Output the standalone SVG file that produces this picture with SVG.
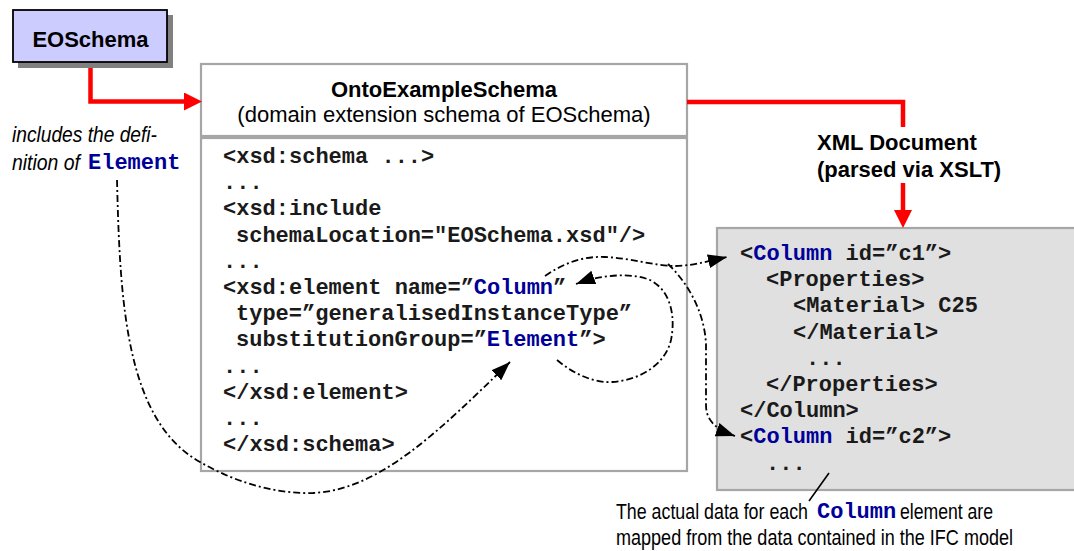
<svg xmlns="http://www.w3.org/2000/svg" width="1074" height="551" viewBox="0 0 1074 551">
  <style>
    .sans { font-family: "Liberation Sans", Arial, sans-serif; font-size: 22px; fill: #000; }
    .bold { font-weight: bold; }
    .narrow { font-family: "Liberation Sans", Arial, sans-serif; font-size: 22px; fill: #000; }
    .code { font-family: "Liberation Mono", "Courier New", monospace; font-size: 22px; font-weight: bold; fill: #1a1a1a; }
    .kw { fill: #000099; }
    .frame { fill: #fff; stroke: #a6a6a6; stroke-width: 2.2; }
    .red { fill: none; stroke: #ff0000; stroke-width: 4.5; }
    .link { fill: none; stroke: #000; stroke-width: 1.8; stroke-dasharray: 7 3 2 3; }
  </style>
  <defs>
    <marker id="redHead" markerUnits="userSpaceOnUse" markerWidth="18" markerHeight="18" refX="0" refY="9" orient="auto">
      <path d="M0,0 L18,9 L0,18 z" fill="#ff0000"/>
    </marker>
    <marker id="blackHead" markerUnits="userSpaceOnUse" markerWidth="20" markerHeight="14" refX="19" refY="7" orient="auto">
      <path d="M0,0 L19,7 L0,14 z" fill="#000"/>
    </marker>
  </defs>

  <rect width="1074" height="551" fill="#fff"/>

  <!-- base schema node -->
  <g id="eoschema">
    <rect x="18" y="15" width="155" height="53" fill="#808080"/>
    <rect x="13" y="10" width="154" height="52" fill="#ccccff" stroke="#000" stroke-width="1.8"/>
    <text class="sans bold" x="90.5" y="47" text-anchor="middle">EOSchema</text>
  </g>

  <!-- note beside the schema -->
  <g id="note-element">
    <text class="narrow" font-style="italic" x="12" y="142" textLength="145" lengthAdjust="spacingAndGlyphs">includes the defi-</text>
    <text class="narrow" font-style="italic" x="12" y="170" textLength="68" lengthAdjust="spacingAndGlyphs">nition of</text>
    <text class="code kw" x="88" y="169">Element</text>
  </g>

  <!-- extension schema node -->
  <g id="ontoexampleschema">
    <rect class="frame" x="201" y="64" width="486" height="72"/>
    <rect class="frame" x="201" y="138" width="486" height="333"/>
    <text class="sans bold" x="444" y="97" text-anchor="middle">OntoExampleSchema</text>
    <text class="sans" x="444" y="122" text-anchor="middle">(domain extension schema of EOSchema)</text>
    <text class="code" x="223" y="163">&lt;xsd:schema ...&gt;</text>
    <text class="code" x="223" y="189.2">...</text>
    <text class="code" x="223" y="215.4">&lt;xsd:include</text>
    <text class="code" x="236" y="241.6">schemaLocation="EOSchema.xsd"/&gt;</text>
    <text class="code" x="223" y="267.8">...</text>
    <text class="code" x="223" y="294">&lt;xsd:element name=”<tspan class="kw">Column</tspan>”</text>
    <text class="code" x="236" y="320.2">type=”generalisedInstanceType”</text>
    <text class="code" x="236" y="346.4">substitutionGroup=”<tspan class="kw">Element</tspan>”&gt;</text>
    <text class="code" x="223" y="372.6">...</text>
    <text class="code" x="223" y="398.8">&lt;/xsd:element&gt;</text>
    <text class="code" x="223" y="425">...</text>
    <text class="code" x="223" y="451.2">&lt;/xsd:schema&gt;</text>
  </g>

  <!-- XML document label -->
  <g id="xml-label">
    <text class="sans bold" x="817" y="150">XML Document</text>
    <text class="sans bold" x="817" y="177">(parsed via XSLT)</text>
  </g>

  <!-- XML instance document node -->
  <g id="xml-document">
    <rect x="717" y="228" width="370" height="262" fill="#e0e0e0" stroke="#a6a6a6" stroke-width="2.2"/>
    <text class="code" x="740" y="260">&lt;<tspan class="kw">Column</tspan> id=”c1”&gt;</text>
    <text class="code" x="766" y="286.2">&lt;Properties&gt;</text>
    <text class="code" x="793" y="312.4">&lt;Material&gt; C25</text>
    <text class="code" x="793" y="338.6">&lt;/Material&gt;</text>
    <text class="code" x="806" y="364.8">...</text>
    <text class="code" x="766" y="391">&lt;/Properties&gt;</text>
    <text class="code" x="740" y="417.2">&lt;/Column&gt;</text>
    <text class="code" x="740" y="443.4">&lt;<tspan class="kw">Column</tspan> id=”c2”&gt;</text>
    <text class="code" x="766" y="469.6">...</text>
  </g>

  <!-- explanation below the document -->
  <g id="note-column">
    <text class="narrow" x="616" y="519" textLength="192" lengthAdjust="spacingAndGlyphs">The actual data for each</text>
    <text class="code kw" x="817" y="518">Column</text>
    <text class="narrow" x="900" y="519" textLength="93" lengthAdjust="spacingAndGlyphs">element are</text>
    <text class="narrow" x="616" y="545" textLength="397" lengthAdjust="spacingAndGlyphs">mapped from the data contained in the IFC model</text>
  </g>

  <!-- connectors -->
  <g id="connectors">
    <path class="red" d="M90.5,68 V101.5 H184" marker-end="url(#redHead)"/>
    <path class="red" d="M687,102 H903 V127"/>
    <path class="red" d="M903,183 V210" marker-end="url(#redHead)"/>

    <!-- Element definition to substitution group -->
    <path class="link" d="M117,180 C120,300 125,420 200,462 C240,485 280,494 313,493 C380,490 440,430 510,362" marker-end="url(#blackHead)"/>
    <!-- Column declaration to first instance -->
    <path class="link" d="M545,276 C565,262 585,256 605,257 C630,258 655,266 675,266 C690,266 705,262 727,257" marker-end="url(#blackHead)"/>
    <!-- branch to second instance -->
    <path class="link" d="M668,264 C690,285 705,315 706,345 L706,405 C706,422 718,430 735,436" marker-end="url(#blackHead)"/>
    <!-- substitution group back to Column -->
    <path class="link" d="M557,360 C575,375 595,383 612,382 C640,380 665,365 671,340 C676,315 670,290 650,280 C630,272 600,275 576,284" marker-end="url(#blackHead)"/>
    <!-- callout -->
    <path d="M829,473 L809,501" stroke="#000" stroke-width="1.6" fill="none"/>
  </g>
</svg>
